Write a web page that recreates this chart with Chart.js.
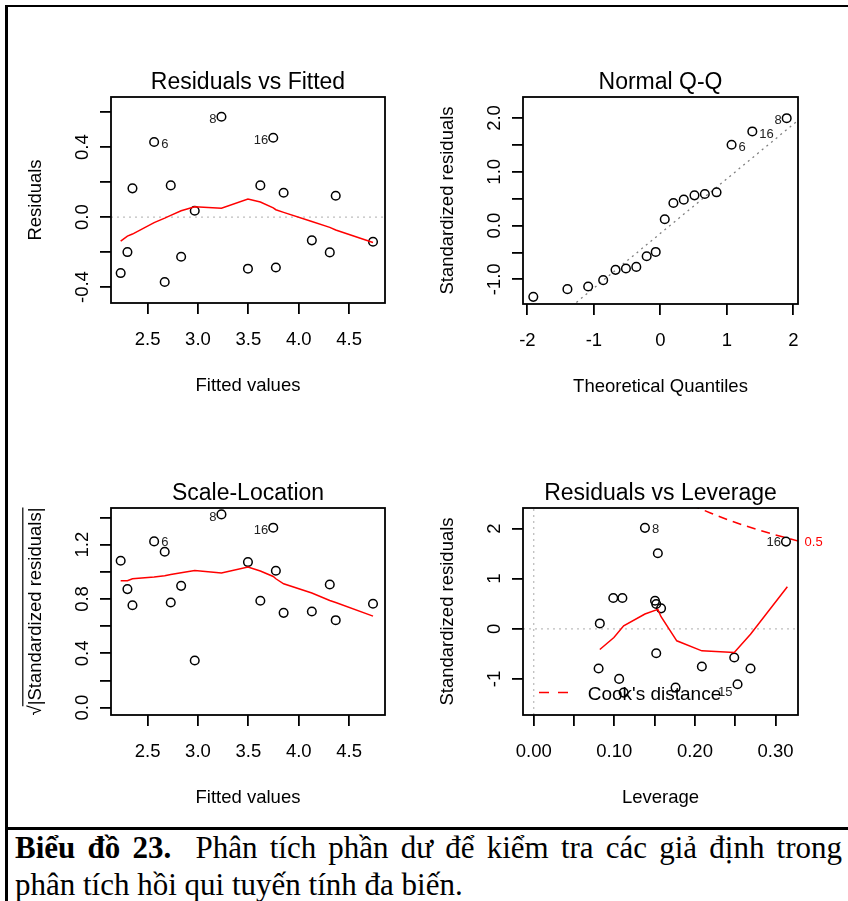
<!DOCTYPE html>
<html>
<head>
<meta charset="utf-8">
<script src="https://cdn.jsdelivr.net/npm/chart.js@4.4.1/dist/chart.umd.min.js"></script>
<style>
  body { margin:0; width:848px; height:901px; position:relative; background:#fff; overflow:hidden; }
  canvas { position:absolute; }
  .rule { position:absolute; background:#000; }
  .cap { position:absolute; left:15px; width:827px; font-family:'Liberation Serif','Times New Roman',serif; font-size:31px; line-height:37.2px; color:#000; }
</style>
</head>
<body>
<div class="rule" style="left:5px;top:5px;width:843px;height:2px"></div>
<div class="rule" style="left:5px;top:5px;width:3px;height:896px"></div>
<div class="rule" style="left:5px;top:827px;width:843px;height:3px"></div>
<div class="cap" style="top:829px;text-align:justify;text-align-last:justify"><b>Biểu đồ 23.</b>&nbsp; Phân tích phần dư để kiểm tra các giả định trong</div>
<div class="cap" style="top:866px">phân tích hồi qui tuyến tính đa biến.</div>

<script>
// fitted values (shared by Residuals vs Fitted and Scale-Location)
var fittedValues = [2.233, 2.30, 2.35, 2.565, 2.67, 2.73, 2.833, 2.968, 3.233, 3.496, 3.619, 3.747, 3.773, 3.85, 4.13, 4.308, 4.367, 4.737];
var residuals    = [-0.32, -0.20, 0.164, 0.429, -0.371, 0.181, -0.227, 0.036, 0.573, -0.295, 0.181, 0.453, -0.288, 0.139, -0.133, -0.202, 0.122, -0.141];
var residSmooth  = [-0.137, -0.109, -0.097, -0.032, -0.006, 0.01, 0.036, 0.059, 0.051, 0.103, 0.086, 0.053, 0.042, 0.027, -0.025, -0.059, -0.074, -0.145];
var sqrtStdResid = [1.082, 0.873, 0.754, 1.224, 1.148, 0.774, 0.897, 0.347, 1.423, 1.072, 0.787, 1.325, 1.008, 0.698, 0.708, 0.907, 0.644, 0.765];
var scaleSmooth  = [0.934, 0.934, 0.949, 0.962, 0.972, 0.981, 0.993, 1.01, 0.991, 1.035, 1.006, 0.966, 0.949, 0.912, 0.844, 0.789, 0.774, 0.674];
var fitIdIndex = [3, 8, 11];
var fitIdText  = ['6', '8', '16'];

// Normal Q-Q
var theoQuant = [-1.911, -1.398, -1.086, -0.86, -0.674, -0.518, -0.362, -0.206, -0.07, 0.066, 0.196, 0.352, 0.513, 0.669, 0.845, 1.071, 1.383, 1.9];
var stdResid  = [-1.325, -1.182, -1.132, -1.015, -0.823, -0.798, -0.768, -0.57, -0.49, 0.117, 0.42, 0.482, 0.562, 0.587, 0.618, 1.503, 1.75, 1.996];
var qqLineX = [-2.1, 2.1];
var qqLineY = [-2.278, 1.986];
var qqIdIndex = [15, 16, 17];
var qqIdText  = ['6', '16', '8'];

// Residuals vs Leverage
var leverage    = [0.138, 0.154, 0.313, 0.0987, 0.110, 0.1505, 0.152, 0.158, 0.082, 0.152, 0.0805, 0.2086, 0.2488, 0.269, 0.106, 0.2529, 0.176, 0.1116];
var levStdResid = [2.014, 1.507, 1.74, 0.614, 0.614, 0.56, 0.494, 0.408, 0.107, -0.487, -0.793, -0.753, -0.573, -0.793, -1.0, -1.107, -1.173, -1.273];
var levSmoothX = [0.082, 0.0995, 0.1116, 0.138, 0.154, 0.158, 0.1775, 0.2086, 0.2488, 0.269, 0.3147];
var levSmoothY = [-0.413, -0.173, 0.06, 0.294, 0.387, 0.24, -0.24, -0.44, -0.473, -0.107, 0.84];
var cookX = [0.195, 0.22, 0.24, 0.26, 0.28, 0.30, 0.32, 0.335];
var cookY = [2.47, 2.306, 2.179, 2.067, 1.968, 1.871, 1.787, 1.72];
var levIdIndex = [0, 2, 15];
var levIdText  = ['8', '16', '15'];

// axes: ranges, ticks, tick labels
var fitXRange = [2.137, 4.856];
var fitXTicks = [2.5, 3.0, 3.5, 4.0, 4.5];
var fitXLabels = ['2.5', '3.0', '3.5', '4.0', '4.5'];
var residYRange = [-0.491, 0.686];
var residYTicks = [-0.4, -0.2, 0, 0.2, 0.4, 0.6];
var residYLabels = ['-0.4', '', '0.0', '', '0.4', ''];
var qqXRange = [-2.066, 2.07];
var qqXTicks = [-2, -1, 0, 1, 2];
var qqXLabels = ['-2', '-1', '0', '1', '2'];
var qqYRange = [-1.458, 2.39];
var qqYTicks = [-1, -0.5, 0, 0.5, 1, 1.5, 2];
var qqYLabels = ['-1.0', '', '0.0', '', '1.0', '', '2.0'];
var slYRange = [-0.054, 1.47];
var slYTicks = [0, 0.2, 0.4, 0.6, 0.8, 1.0, 1.2, 1.4];
var slYLabels = ['0.0', '', '0.4', '', '0.8', '', '1.2', ''];
var levXRange = [-0.0133, 0.3279];
var levXTicks = [0, 0.05, 0.10, 0.15, 0.20, 0.25, 0.30];
var levXLabels = ['0.00', '', '0.10', '', '0.20', '', '0.30'];
var levYRange = [-1.72, 2.41];
var levYTicks = [-1, 0, 1, 2];
var levYLabels = ['-1', '0', '1', '2'];
var cookLevel = '0.5';

var FONT = "'Liberation Sans', Arial, Helvetica, sans-serif";

function pts(xs, ys) {
    return xs.map(function (x, i) { return {x: x, y: ys[i]}; });
}
function openPoints(data) {
    return {data: data, showLine: false, pointStyle: 'circle', pointRadius: 4.3, pointBorderWidth: 1.5,
            pointBorderColor: '#000', pointBackgroundColor: 'rgba(0,0,0,0)'};
}
function redLine(data) {
    return {data: data, showLine: true, pointRadius: 0, borderColor: '#ff0000', borderWidth: 1.5, fill: false};
}
function dotLine(data, color) {
    return {data: data, showLine: true, pointRadius: 0, borderColor: color, borderWidth: 1.3, borderDash: [2, 4], fill: false, clip: 0};
}

function axis(range, ticks, labels, title, isX, size) {
    return {
        type: 'linear', min: range[0], max: range[1], bounds: 'data',
        afterBuildTicks: function (s) { s.ticks = ticks.map(function (v) { return {value: v}; }); },
        afterFit: function (s) { if (isX) s.height = size; else s.width = size; },
        ticks: {display: isX, autoSkip: false, maxRotation: 0, padding: 15, color: '#000',
                font: {family: FONT, size: 18.5},
                callback: function (v, i) { return labels[i]; }},
        grid: {drawOnChartArea: false, drawTicks: true, tickLength: 11, lineWidth: 1.8, tickWidth: 1.8, tickColor: '#000', color: '#000'},
        border: {display: false},
        title: {display: true, text: title, color: '#000', padding: 0, font: {family: FONT, size: 18.5}}
    };
}

function makePanel(cfg) {
    var cv = document.createElement('canvas');
    cv.width = cfg.cw; cv.height = cfg.ch;
    cv.style.left = cfg.cx + 'px'; cv.style.top = cfg.cy + 'px';
    document.body.appendChild(cv);
    var b = cfg.box, yW = 86.3, xH = 93.6;
    var titleMid = b.t - 14.4;

    var decor = {
        id: 'decor',
        afterDraw: function (chart) {
            var ctx = chart.ctx, a = chart.chartArea, ys = chart.scales.y;
            ctx.save();
            // frame around the plot region
            ctx.strokeStyle = '#000'; ctx.lineWidth = 1.8;
            ctx.strokeRect(a.left, a.top, a.right - a.left, a.bottom - a.top);
            // rotated y tick labels (R style)
            ctx.fillStyle = '#000';
            ctx.font = '18.5px ' + FONT;
            ctx.textAlign = 'center'; ctx.textBaseline = 'alphabetic';
            cfg.yTicks.forEach(function (v, i) {
                if (!cfg.yLabels[i]) return;
                ctx.save();
                ctx.translate(a.left - 22.7, ys.getPixelForValue(v));
                ctx.rotate(-Math.PI / 2);
                ctx.fillText(cfg.yLabels[i], 0, 0);
                ctx.restore();
            });
            // point ids
            ctx.font = '13px ' + FONT; ctx.fillStyle = '#222'; ctx.textBaseline = 'middle';
            var meta = chart.getDatasetMeta(cfg.ptsDs);
            cfg.idIndex.forEach(function (idx, k) {
                var el = meta.data[idx], st = cfg.idStyle[k];
                ctx.textAlign = st[0] === 'r' ? 'left' : 'right';
                ctx.fillText(cfg.idText[k], el.x + (st[0] === 'r' ? 7 : -5), el.y + st[1]);
            });
            if (cfg.extra) cfg.extra(chart, ctx);
            ctx.restore();
        }
    };

    return new Chart(cv.getContext('2d'), {
        type: 'scatter',
        data: {datasets: cfg.datasets},
        options: {
            responsive: false, animation: false, devicePixelRatio: 1, events: [],
            layout: {padding: {left: b.l - yW - cfg.cx, right: cfg.cx + cfg.cw - b.r, top: 0, bottom: cfg.cy + cfg.ch - b.b - xH}},
            plugins: {
                legend: {display: false}, tooltip: {enabled: false},
                title: {display: true, text: cfg.title, color: '#000', fullSize: false,
                        font: {family: FONT, size: 23, weight: 'normal'},
                        padding: {top: titleMid - 13.8 - cfg.cy, bottom: Math.max(0, b.t - titleMid - 13.8)}}
            },
            scales: {
                x: axis(cfg.xRange, cfg.xTicks, cfg.xLabels, cfg.xTitle, true, xH),
                y: axis(cfg.yRange, cfg.yTicks, cfg.yLabels, cfg.yTitle, false, yW)
            }
        },
        plugins: [decor]
    });
}

// Residuals vs Fitted
makePanel({
    cx: 8, cy: 8, cw: 412, ch: 412, box: {l: 111, t: 97, r: 385, b: 303},
    title: 'Residuals vs Fitted', xTitle: 'Fitted values', yTitle: 'Residuals',
    xRange: fitXRange, xTicks: fitXTicks, xLabels: fitXLabels,
    yRange: residYRange, yTicks: residYTicks, yLabels: residYLabels,
    datasets: [
        redLine(pts(fittedValues, residSmooth)),
        openPoints(pts(fittedValues, residuals)),
        dotLine(pts(fitXRange, [0, 0]), '#bebebe')
    ],
    ptsDs: 1, idIndex: fitIdIndex, idText: fitIdText, idStyle: [['r', 2], ['l', 2.5], ['l', 3]]
});

// Normal Q-Q
makePanel({
    cx: 420, cy: 8, cw: 428, ch: 412, box: {l: 523, t: 97, r: 798, b: 304},
    title: 'Normal Q-Q', xTitle: 'Theoretical Quantiles', yTitle: 'Standardized residuals',
    xRange: qqXRange, xTicks: qqXTicks, xLabels: qqXLabels,
    yRange: qqYRange, yTicks: qqYTicks, yLabels: qqYLabels,
    datasets: [
        openPoints(pts(theoQuant, stdResid)),
        dotLine(pts(qqLineX, qqLineY), '#808080')
    ],
    ptsDs: 0, idIndex: qqIdIndex, idText: qqIdText, idStyle: [['r', 2.5], ['r', 2.7], ['l', 2.7]]
});

// Scale-Location
makePanel({
    cx: 8, cy: 420, cw: 412, ch: 406, box: {l: 111, t: 508, r: 385, b: 715},
    title: 'Scale-Location', xTitle: 'Fitted values', yTitle: '\u221A|Standardized residuals|',
    xRange: fitXRange, xTicks: fitXTicks, xLabels: fitXLabels,
    yRange: slYRange, yTicks: slYTicks, yLabels: slYLabels,
    datasets: [
        redLine(pts(fittedValues, scaleSmooth)),
        openPoints(pts(fittedValues, sqrtStdResid))
    ],
    ptsDs: 1, idIndex: fitIdIndex, idText: fitIdText, idStyle: [['r', 1.5], ['l', 3.5], ['l', 2.7]],
    extra: function (chart, ctx) {
        // overbar of the square root in the y title
        var a = chart.chartArea, mid = (a.top + a.bottom) / 2;
        ctx.font = '18.5px ' + FONT;
        var full = ctx.measureText('\u221A|Standardized residuals|').width;
        var root = ctx.measureText('\u221A').width;
        var x = a.left - 75.2 - 13;
        ctx.strokeStyle = '#000'; ctx.lineWidth = 1.2;
        ctx.beginPath();
        ctx.moveTo(x, mid + full / 2 - root + 1);
        ctx.lineTo(x, mid - full / 2);
        ctx.stroke();
    }
});

// Residuals vs Leverage
makePanel({
    cx: 420, cy: 420, cw: 428, ch: 406, box: {l: 523, t: 508, r: 798, b: 715},
    title: 'Residuals vs Leverage', xTitle: 'Leverage', yTitle: 'Standardized residuals',
    xRange: levXRange, xTicks: levXTicks, xLabels: levXLabels,
    yRange: levYRange, yTicks: levYTicks, yLabels: levYLabels,
    datasets: [
        redLine(pts(levSmoothX, levSmoothY)),
        openPoints(pts(leverage, levStdResid)),
        {data: pts(cookX, cookY), showLine: true, pointRadius: 0, borderColor: '#ff0000', borderWidth: 1.5, borderDash: [9, 6], fill: false, clip: 0},
        dotLine(pts(levXRange, [0, 0]), '#bebebe'),
        dotLine(pts([0, 0], levYRange), '#bebebe')
    ],
    ptsDs: 1, idIndex: levIdIndex, idText: levIdText, idStyle: [['r', 2], ['l', 1], ['l', 8]],
    extra: function (chart, ctx) {
        var a = chart.chartArea, xs = chart.scales.x, ys = chart.scales.y;
        // legend
        ctx.strokeStyle = '#ff0000'; ctx.lineWidth = 1.5; ctx.setLineDash([10, 9]);
        ctx.beginPath();
        ctx.moveTo(a.left + 16, a.bottom - 22.5);
        ctx.lineTo(a.left + 48, a.bottom - 22.5);
        ctx.stroke();
        ctx.setLineDash([]);
        ctx.font = '19px ' + FONT; ctx.fillStyle = '#000';
        ctx.textAlign = 'left'; ctx.textBaseline = 'middle';
        ctx.fillText("Cook's distance", a.left + 64.7, a.bottom - 20);
        // contour level label at the right edge
        var xr = xs.max, yv = cookY[cookY.length - 1];
        for (var i = 1; i < cookX.length; i++) {
            if (cookX[i] >= xr) {
                var t = (xr - cookX[i - 1]) / (cookX[i] - cookX[i - 1]);
                yv = cookY[i - 1] + t * (cookY[i] - cookY[i - 1]);
                break;
            }
        }
        ctx.font = '13px ' + FONT; ctx.fillStyle = '#ff0000';
        ctx.fillText(cookLevel, a.right + 6.6, ys.getPixelForValue(yv) + 1.5);
    }
});
</script>
</body>
</html>
